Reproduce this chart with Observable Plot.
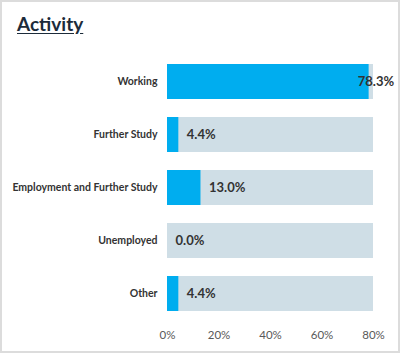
<!DOCTYPE html>
<html>
<head>
<meta charset="utf-8">
<script src="https://cdn.jsdelivr.net/npm/d3@7"></script>
<script src="https://cdn.jsdelivr.net/npm/@observablehq/plot@0.6"></script>
<style>
  html, body { margin: 0; padding: 0; background: #fff; }
  #wrap { position: relative; width: 400px; height: 353px; box-sizing: border-box; border: 2px solid #dcdcdc; overflow: hidden; }
  #title { height: 38px; padding: 11px 0 0 15px; box-sizing: border-box; font-family: Lato, sans-serif; font-weight: 700; font-size: 19px; color: #1c2b3a; text-decoration: underline; text-underline-offset: 2px; line-height: 22px; }
  svg { display: block; }
</style>
</head>
<body>
<div id="wrap">
  <div id="title">Activity</div>
  <div id="chart"></div>
</div>
<script>
const categories = ["Working", "Further Study", "Employment and Further Study", "Unemployed", "Other"];
const values = [78.3, 4.4, 13.0, 0.0, 4.4];
const xTicks = [0, 20, 40, 60, 80];
const xMax = 80;

const data = categories.map((c, i) => ({category: c, value: values[i], full: xMax}));
const inside = data.filter(d => d.value > 70);
const outside = data.filter(d => d.value <= 70);

const chart = Plot.plot({
  width: 396,
  height: 313,
  marginLeft: 165,
  marginRight: 25,
  marginTop: 5,
  marginBottom: 24,
  style: {fontFamily: "Lato, sans-serif", background: "transparent"},
  x: {domain: [0, xMax], axis: null},
  y: {domain: categories, paddingInner: 0.34, paddingOuter: 0.34, axis: null},
  marks: [
    Plot.barX(data, {y: "category", x1: 0, x2: "full", fill: "#cfdee6"}),
    Plot.barX(data, {y: "category", x1: 0, x2: "value", fill: "#00adef"}),
    Plot.axisY({tickSize: 0, tickPadding: 10, fontSize: 10.5, fontWeight: 700, fill: "#333", label: null}),
    Plot.axisX({ticks: xTicks, tickSize: 0, tickPadding: 1, fontSize: 11.5, fill: "#595959", label: null, tickFormat: d => d + "%"}),
    Plot.text(outside, {y: "category", x: "value", text: d => d.value.toFixed(1) + "%", textAnchor: "start", dx: 8, fontSize: 13, fontWeight: 700, fill: "#333"}),
    Plot.text(inside, {y: "category", x: "value", text: d => d.value.toFixed(1) + "%", textAnchor: "end", dx: 25, fontSize: 13, fontWeight: 700, fill: "#333"})
  ]
});
document.getElementById("chart").appendChild(chart);
</script>
</body>
</html>
